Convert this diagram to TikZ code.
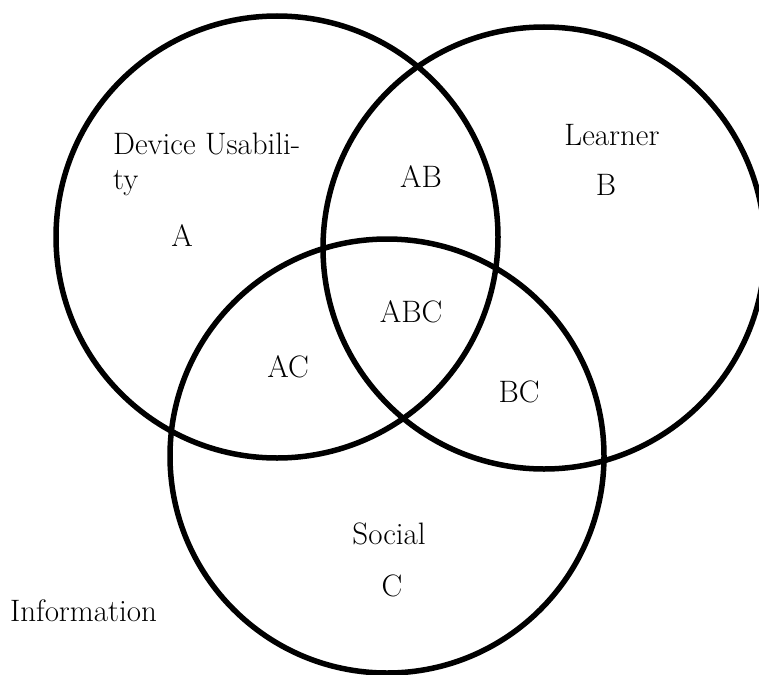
\documentclass[tikz,border=0pt]{standalone}
\usepackage{fontspec}
\begin{document}
\begin{tikzpicture}[x=1pt,y=-1pt,
        ring/.style={line width=5.5pt},
        lbl/.style={inner sep=0pt,anchor=base,font=\fontsize{31}{35}\selectfont}]
    \useasboundingbox (0,0) rectangle (759,674);
    \draw [ring] (277,237) circle (221pt);
    \draw [ring] (544,248) circle (221pt);
    \draw [ring] (387,456) circle (217pt);
    \node [lbl,anchor=base west,align=left] (devu) at (113,189) {Device Usabili-\\ty};
    \node [lbl] (a) at (182,246) {A};
    \node [lbl] (learner) at (612,145) {Learner};
    \node [lbl] (b) at (606,195) {B};
    \node [lbl] (ab) at (421,187) {AB};
    \node [lbl] (abc) at (411,322) {ABC};
    \node [lbl] (ac) at (288,377) {AC};
    \node [lbl] (bc) at (519,402) {BC};
    \node [lbl] (social) at (389,544) {Social};
    \node [lbl] (c) at (392,596) {C};
    \node [lbl,anchor=base west] (info) at (10,621) {Information};
\end{tikzpicture}
\end{document}
